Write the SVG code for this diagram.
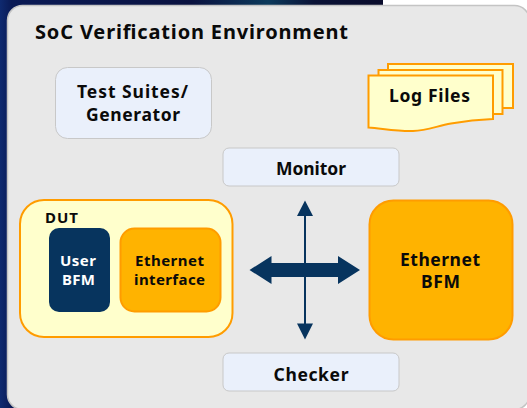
<svg xmlns="http://www.w3.org/2000/svg" width="527" height="408" viewBox="0 0 527 408">
<defs>
<linearGradient id="bg" x1="0" y1="0" x2="1" y2="0"><stop offset="0" stop-color="#0f2a70"/><stop offset="0.03" stop-color="#0a1a55"/><stop offset="0.5" stop-color="#0a1240"/><stop offset="0.7" stop-color="#0c3a5c"/><stop offset="0.82" stop-color="#0a1236"/><stop offset="1" stop-color="#0a0c2c"/></linearGradient>
</defs>
<style>
text{font-family:"Noto Sans","Open Sans",sans-serif;font-weight:700;text-anchor:middle;fill:#0a0a0a}
.b{fill:#eaf0fb;stroke:#c8c8c8;stroke-width:1}
.y{fill:#ffffcc;stroke:#ff9c00;stroke-width:2}
.o{fill:#ffb300;stroke:#ff9c00;stroke-width:2}
.t{font-size:17.5px}
.s{font-size:15px}
.w{fill:#fff}
</style>
<rect width="527" height="408" fill="#fff"/>
<rect width="383" height="408" fill="url(#bg)"/>
<rect x="7.500" y="5.500" width="522" height="404" rx="15" fill="#e8e8e8" stroke="#c4c4c4" stroke-width="1.500"/>
<text x="191.500" y="39" textLength="313" style="font-size:20px">SoC Verification Environment</text>
<g id="test-suites"><rect class="b" x="55.500" y="67.500" width="156" height="71" rx="12"/><text class="t" x="132.500" y="98" textLength="111">Test Suites/</text><text class="t" x="133" y="121" textLength="94">Generator</text></g>
<g id="log-files">
<path class="y" d="M388 64h125v44h-125z"/><path class="y" d="M378.500 70h124v44h-124z"/><path class="y" d="M368.500 75.500h124.500v43.500c-14 .5-28 2-42 4.500s-24 7-38 7.500-28-2-44.500-3.500z"/>
<text class="t" x="429.500" y="102" textLength="81">Log Files</text></g>
<g id="monitor"><rect class="b" x="223" y="148" width="176" height="38" rx="6"/><text class="t" x="311" y="175" textLength="70">Monitor</text></g>
<g id="dut"><rect class="y" x="20" y="200" width="212.500" height="137" rx="24"/><text class="s" x="61.500" y="223" textLength="33">DUT</text></g>
<g id="user-bfm"><rect x="49" y="228" width="61" height="84" rx="10" fill="#07345e"/><text class="s w" x="78" y="266" textLength="36">User</text><text class="s w" x="78.500" y="285" textLength="33">BFM</text></g>
<g id="ethernet-interface"><rect class="o" x="120.500" y="228.500" width="100" height="83" rx="14"/><text class="s" x="169.500" y="266" textLength="69">Ethernet</text><text class="s" x="169.500" y="285" textLength="71">interface</text></g>
<g id="ethernet-bfm"><rect class="o" x="369.500" y="200.500" width="143" height="139" rx="24"/><text x="440" y="266" class="t" textLength="80">Ethernet</text><text x="440.500" y="288" class="t" textLength="39">BFM</text></g>
<g id="checker"><rect class="b" x="223" y="353" width="176" height="38" rx="6"/><text class="t" x="311" y="381" textLength="75">Checker</text></g>
<g id="connectors" fill="#07345e">
<path d="M305 200.500l8 15.500h-7v107.500h7l-8 16-8-16h7v-107.500h-7z"/>
<path d="M249.500 270l22-14v7h66.500v-7l22 14-22 14v-7h-66.500v7z"/>
</g>
</svg>
